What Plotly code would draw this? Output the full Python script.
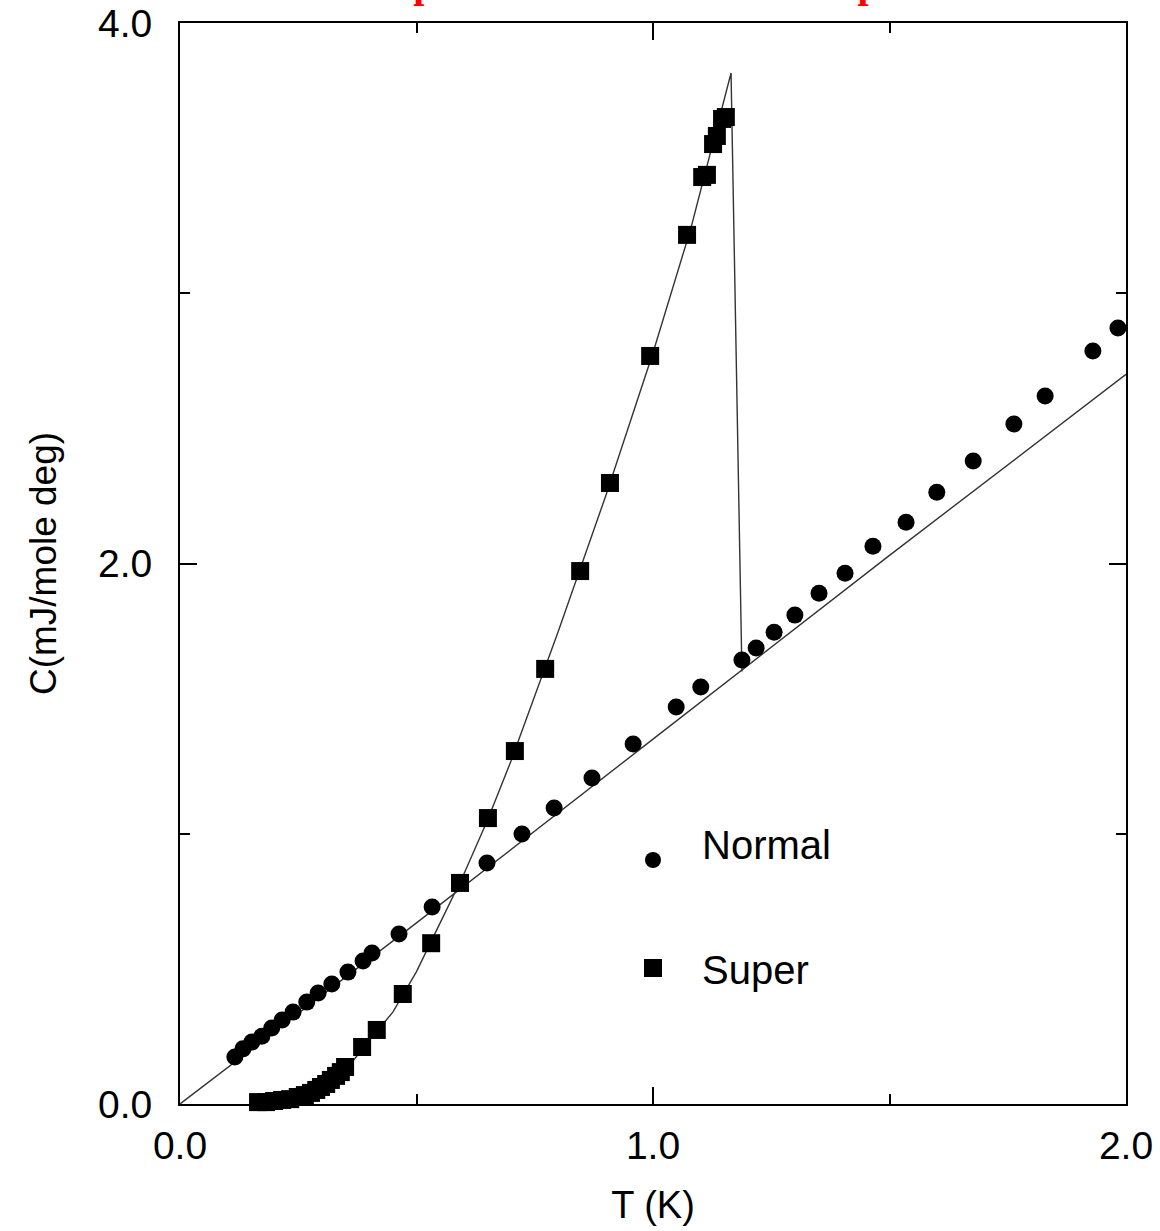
import plotly.graph_objects as go

# ---- data ----
normal_T = [0.116, 0.133, 0.152, 0.173, 0.194, 0.216, 0.239, 0.268, 0.292, 0.321,
            0.355, 0.387, 0.406, 0.463, 0.533, 0.649, 0.723, 0.791, 0.871, 0.958,
            1.049, 1.101, 1.188, 1.218, 1.256, 1.300, 1.351, 1.406, 1.465, 1.535,
            1.600, 1.677, 1.763, 1.829, 1.930, 1.983]
normal_C = [0.174, 0.204, 0.229, 0.251, 0.281, 0.311, 0.340, 0.377, 0.411, 0.444,
            0.488, 0.529, 0.559, 0.629, 0.729, 0.892, 0.999, 1.095, 1.206, 1.332,
            1.469, 1.543, 1.643, 1.687, 1.746, 1.809, 1.890, 1.964, 2.064, 2.153,
            2.264, 2.379, 2.516, 2.620, 2.786, 2.871]

super_T = [0.165, 0.182, 0.199, 0.216, 0.233, 0.249, 0.264, 0.277, 0.288, 0.298,
           0.309, 0.319, 0.330, 0.340, 0.349, 0.385, 0.416, 0.471, 0.531, 0.592,
           0.651, 0.708, 0.772, 0.846, 0.909, 0.994, 1.072, 1.104, 1.114, 1.127,
           1.135, 1.146, 1.154]
super_C = [0.007, 0.007, 0.011, 0.015, 0.018, 0.026, 0.033, 0.041, 0.052, 0.063,
           0.074, 0.089, 0.104, 0.118, 0.137, 0.211, 0.274, 0.407, 0.595, 0.818,
           1.058, 1.306, 1.610, 1.972, 2.298, 2.768, 3.216, 3.430, 3.438, 3.552,
           3.582, 3.645, 3.652]

# fitted curves
normal_fit_T = [0.0, 0.5, 1.0, 1.5, 2.0]
normal_fit_C = [0.0, 0.67, 1.35, 2.03, 2.70]

super_fit_T = [0.16, 0.20, 0.25, 0.30, 0.35, 0.40, 0.45, 0.50, 0.55, 0.60, 0.65,
               0.70, 0.80, 0.90, 1.00, 1.08, 1.165, 1.188]
super_fit_C = [0.0, 0.008, 0.025, 0.06, 0.125, 0.235, 0.34, 0.49, 0.67, 0.85, 1.05,
               1.27, 1.75, 2.25, 2.78, 3.24, 3.815, 1.60]

x_ticks = [0.0, 1.0, 2.0]
x_ticktext = ["0.0", "1.0", "2.0"]
y_ticks = [0.0, 2.0, 4.0]
y_ticktext = ["0.0", "2.0", "4.0"]

title_text = "Specific Heat Normal vs Super"
legend_labels = ["Normal", "Super"]

SANS = "Liberation Sans, Arial, sans-serif"
LINE_COL = "#333333"

fig = go.Figure()
fig.add_trace(go.Scatter(x=normal_fit_T, y=normal_fit_C, mode="lines",
                         line=dict(color=LINE_COL, width=1.4), showlegend=False,
                         hoverinfo="skip"))
fig.add_trace(go.Scatter(x=super_fit_T, y=super_fit_C, mode="lines",
                         line=dict(color=LINE_COL, width=1.4), showlegend=False,
                         hoverinfo="skip"))
fig.add_trace(go.Scatter(x=normal_T, y=normal_C, mode="markers", name="Normal",
                         marker=dict(symbol="circle", size=17, color="black",
                                     line=dict(width=0)),
                         showlegend=False, cliponaxis=False))
fig.add_trace(go.Scatter(x=super_T, y=super_C, mode="markers", name="Super",
                         marker=dict(symbol="square", size=18, color="black",
                                     line=dict(width=0)),
                         showlegend=False, cliponaxis=False))

axis_common = dict(
    showgrid=False, zeroline=False, showline=True, linecolor="black", linewidth=2,
    mirror="allticks", ticks="inside", ticklen=17, tickwidth=1.5, tickcolor="black",
    tickfont=dict(family=SANS, size=39, color="black"), automargin=False,
)

fig.update_layout(
    width=1160, height=1231,
    margin=dict(l=180, r=34, t=23, b=127, pad=0),
    paper_bgcolor="white", plot_bgcolor="white",
    xaxis=dict(range=[0, 2], tickvals=x_ticks, ticktext=x_ticktext,
               minor=dict(ticks="inside", ticklen=10, tickwidth=1.5, dtick=0.5,
                          tickcolor="black", showgrid=False),
               ticklabelstandoff=6,
               title=dict(text="T (K)", font=dict(family=SANS, size=38, color="black"),
                          standoff=26),
               **axis_common),
    yaxis=dict(range=[0, 4], tickvals=y_ticks, ticktext=y_ticktext,
               minor=dict(ticks="inside", ticklen=10, tickwidth=1.5, dtick=1,
                          tickcolor="black", showgrid=False),
               ticklabelstandoff=18,
               title=dict(text="C(mJ/mole deg)", font=dict(family=SANS, size=37, color="black"),
                          standoff=30),
               **axis_common),
    showlegend=False,
)

# cropped red title at the very top (only its descenders show, as in the reference)
fig.add_annotation(text="<b>" + title_text + "</b>", xref="paper", yref="paper",
                   x=0.5, y=(1104 - 8) / 1081, xanchor="center", yanchor="bottom",
                   showarrow=False,
                   font=dict(family="Liberation Serif, Times New Roman, serif",
                             size=40, color="red"))

# legend (hand placed)
leg_y = [(1104 - 860) / 1081, (1104 - 968) / 1081]
fig.add_shape(type="circle", xref="paper", yref="paper", xsizemode="pixel",
              ysizemode="pixel", xanchor=0.5, yanchor=leg_y[0],
              x0=-8, x1=8, y0=-8, y1=8, fillcolor="black", line=dict(width=0))
fig.add_shape(type="rect", xref="paper", yref="paper", xsizemode="pixel",
              ysizemode="pixel", xanchor=0.5, yanchor=leg_y[1],
              x0=-9, x1=9, y0=-9, y1=9, fillcolor="black", line=dict(width=0))
for lab, yy, dy in zip(legend_labels, leg_y, [(860 - 845) / 1081, -2 / 1081]):
    fig.add_annotation(text=lab, xref="paper", yref="paper",
                       x=(700 - 180) / 946, y=yy + dy, xanchor="left", yanchor="middle",
                       showarrow=False,
                       font=dict(family=SANS, size=40, color="black"))

fig.write_html("out.html")
